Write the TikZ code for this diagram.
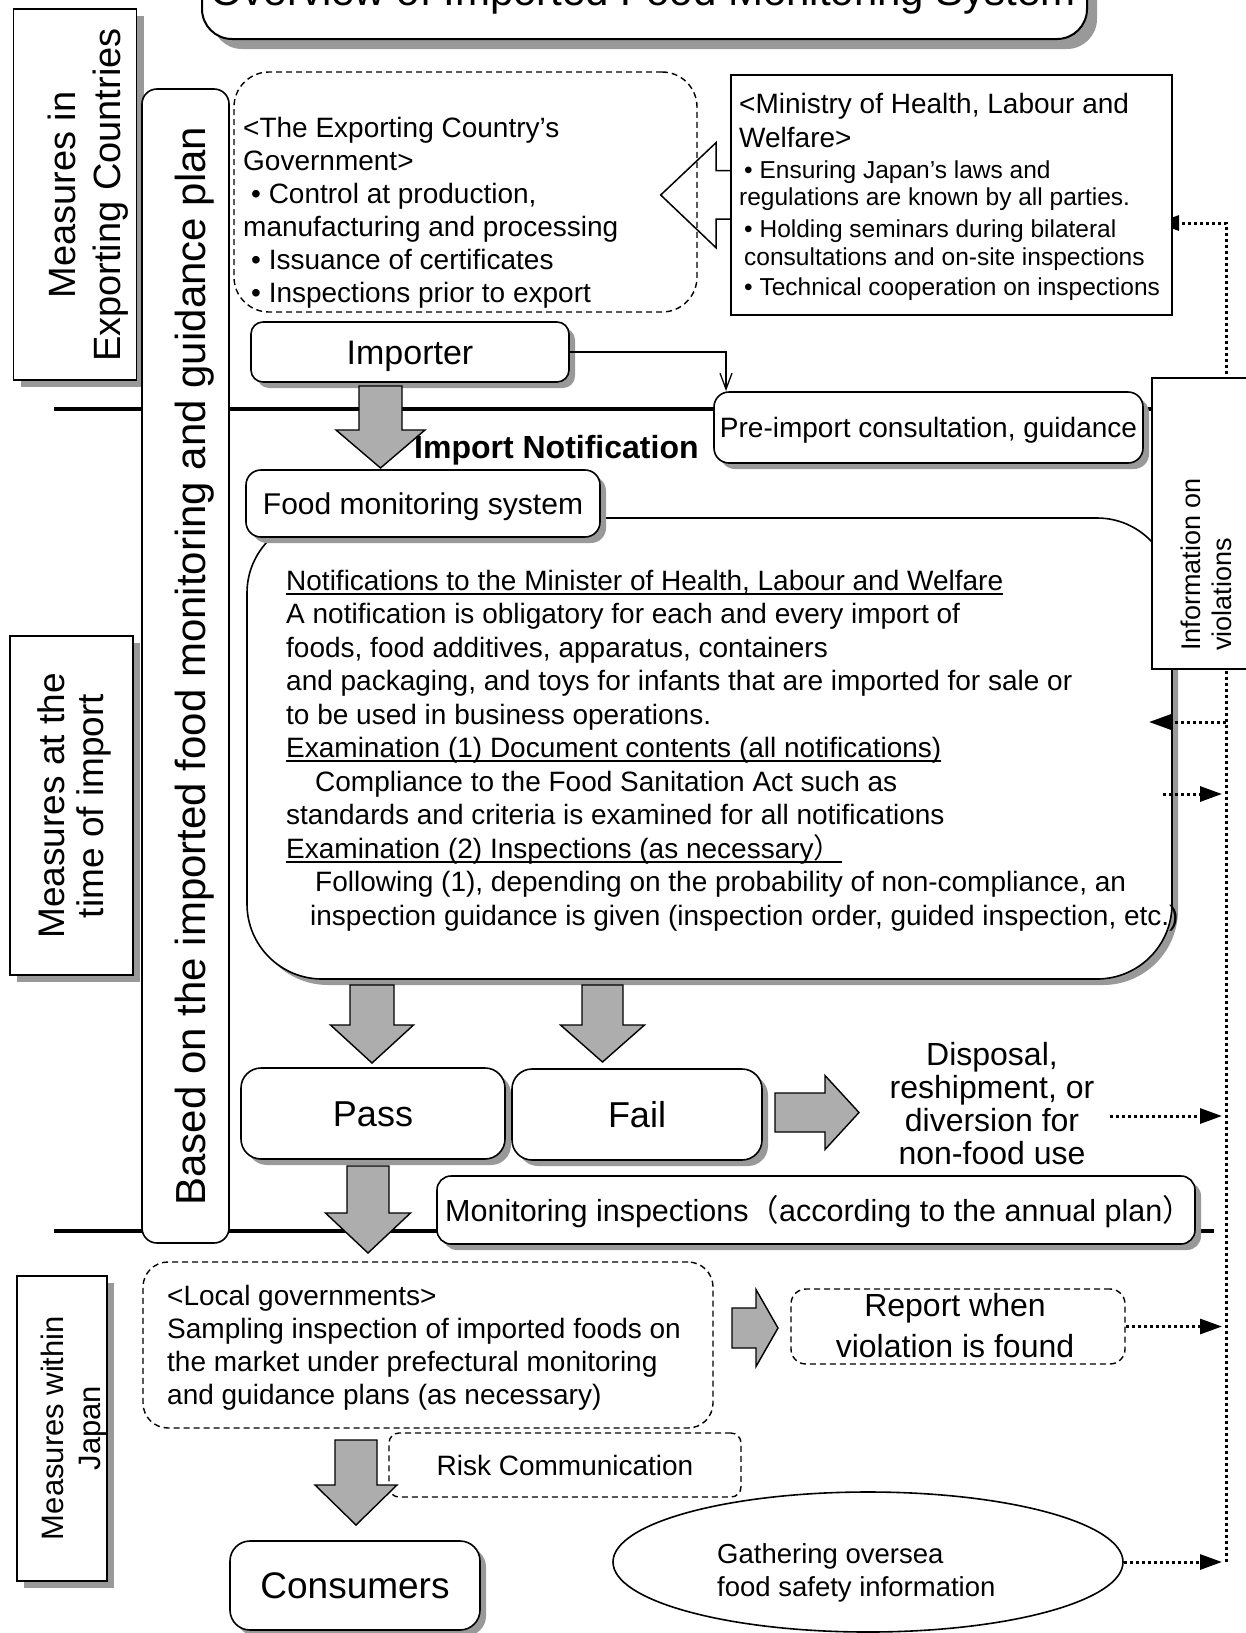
\documentclass[tikz,border=0pt]{standalone}
\usepackage{fontspec}
\setmainfont{Liberation Sans}
\newfontfamily\cjkf{Noto Sans CJK JP}
\usetikzlibrary{shadows,arrows.meta,shapes.geometric}
\newcommand\fsz[2]{\fontsize{#1}{#2}\selectfont}
\newcommand\linesL[2]{\vtop{\baselineskip=#1\relax\lineskiplimit=-1000pt\lineskip=0pt\halign{##\hfil\cr#2\crcr}}}
\newcommand\linesC[2]{\vtop{\baselineskip=#1\relax\lineskiplimit=-1000pt\lineskip=0pt\halign{\hfil##\hfil\cr#2\crcr}}}
\newcommand\ulined[1]{\setbox0=\hbox{#1}\rlap{\rule[-4.5pt]{\wd0}{1.6pt}}\box0}
\newcommand\gdown[6]{\draw[garrow] ({#1-#5},#2) -- ({#1+#5},#2) -- ({#1+#5},#3) -- ({#1+#6},#3) -- (#1,#4) -- ({#1-#6},#3) -- ({#1-#5},#3) -- cycle;}
\newcommand\gright[6]{\draw[garrow] (#2,{#1-#5}) -- (#3,{#1-#5}) -- (#3,{#1-#6}) -- (#4,#1) -- (#3,{#1+#6}) -- (#3,{#1+#5}) -- (#2,{#1+#5}) -- cycle;}
\tikzset{
 bx/.style={draw, line width=1.6pt, fill=white, inner sep=0pt},
 rbx/.style={bx, rounded corners=#1}, rbx/.default=15pt,
 dbx/.style={draw, line width=1.4pt, dash pattern=on 6pt off 4pt, fill=white, inner sep=0pt, rounded corners=#1}, dbx/.default=20pt,
 shad/.style={drop shadow={shadow xshift=#1, shadow yshift=-#1, fill=black!40, opacity=1}}, shad/.default=6pt,
 garrow/.style={draw, line width=1.4pt, fill=black!32, line join=miter},
 dota/.style={line width=3pt, dash pattern=on 3pt off 3pt, -{Triangle[length=22pt,width=15pt]}},
 hrule/.style={line width=4pt},
 capc/.style={text height=#1, text depth=0pt},
 txt/.style={inner sep=0pt},
}
\begin{document}
\begin{tikzpicture}[x=1pt,y=-1pt]
\useasboundingbox (0,0) rectangle (1245,1633);
% horizontal rules
\coordinate (r1a) at (54,409); \coordinate (r1b) at (1152,409);
\coordinate (r2a) at (54,1231); \coordinate (r2b) at (1214,1231);
\draw[hrule] (r1a) -- (r1b);
\draw[hrule] (r2a) -- (r2b);
% information line
\coordinate (vt) at (1226,223); \coordinate (vb) at (1226,1562); \coordinate (vx) at (1222,0);
\coordinate (mtip) at (1157,223);
\draw[dota] (vb) -- (vt) -- (mtip);
% title
\node[rbx=30pt, shad=10pt, minimum width=885pt, minimum height=84pt, line width=2pt] (title) at (644.5,-3) {};
\node[txt, anchor=base, font=\fsz{42}{50}] (titletext) at (643,5) {Overview of Imported Food Monitoring System};
% left labels
\node[bx, shad=7pt, minimum width=123pt, minimum height=371pt] (expc) at (75,194.5) {};
\node[txt, rotate=90, anchor=base, font=\fsz{38}{44}] (expct) at (75,195) {\linesC{45pt}{Measures in\cr Exporting Countries}};
\node[bx, shad=7pt, minimum width=123pt, minimum height=339pt] (timebox) at (71.5,805.5) {};
\node[txt, rotate=90, anchor=base, font=\fsz{37}{43}] (timet) at (64,806) {\linesC{39pt}{Measures at the\cr time of import}};
\node[bx, shad=7pt, minimum width=90pt, minimum height=305pt] (japanbox) at (62,1428.5) {};
\node[txt, rotate=90, anchor=base, font=\fsz{31}{36}] (japant) at (63,1428) {\linesC{37pt}{Measures within\cr Japan}};
\node[rbx=15pt, minimum width=87pt, minimum height=1154pt] (based) at (185.5,666) {};
\node[txt, rotate=90, anchor=base, font=\fsz{42}{50}] (basedt) at (205,666) {Based on the imported food monitoring and guidance plan};
% exporting country
\node[dbx=35pt, minimum width=463pt, minimum height=240pt] (expgov) at (465.5,192) {};
\node[txt, anchor=base west, font=\fsz{28}{33}] (expgovt) at (243,137) {\linesL{33pt}{%
<The Exporting Country’s\cr
Government>\cr
\hspace*{8pt}•\ Control at production,\cr
manufacturing and processing\cr
\hspace*{8pt}•\ Issuance of certificates\cr
\hspace*{8pt}•\ Inspections prior to export}};
% ministry
\node[bx, minimum width=441pt, minimum height=240pt] (ministry) at (951.5,195) {};
\node[txt, anchor=base west, font=\fsz{24.5}{28}] (ministryt) at (739,113) {\linesL{28pt}{%
{\fsz{28}{33}<Ministry of Health, Labour and}\cr\noalign{\vskip 6pt}
{\fsz{28}{33}Welfare>}\cr\noalign{\vskip 3pt}
\hspace*{5pt}•\ Ensuring Japan’s laws and\cr\noalign{\vskip -1pt}
regulations are known by all parties.\cr\noalign{\vskip 4pt}
\hspace*{5pt}•\ Holding seminars during bilateral\cr
\hspace*{5pt}consultations and on-site inspections\cr\noalign{\vskip 2pt}
\hspace*{5pt}•\ Technical cooperation on inspections}};
\draw[line width=1.5pt, line join=miter] (731,170.7) -- (716,170.7) -- (716,142.7) -- (660.7,195) -- (716,247.7) -- (716,219) -- (731,219);
% importer
\node[rbx=12pt, shad, minimum width=318pt, minimum height=60pt, font=\fsz{34}{40}, capc=24.3pt] (importer) at (410,352) {Importer};
\coordinate (preimpin) at (726,391);
\draw[line width=1.3pt, -{Straight Barb[length=16pt,width=12pt]}] (importer.east) -| (preimpin);
\gdown{380.5}{386}{430}{468}{21.5}{44.5}
\node[rbx=15pt, shad, minimum width=429pt, minimum height=71pt, font=\fsz{28}{33}, capc=20pt] (preimp) at (928.5,427.5) {Pre-import consultation, guidance};
\node[txt, anchor=base west, font=\bfseries\fsz{32}{38}] (impnot) at (414,458) {Import Notification};
% notification box
\node[rbx=75pt, shad, minimum width=925pt, minimum height=461pt] (notif) at (709.5,748.5) {};
\node[rbx=15pt, shad, minimum width=354pt, minimum height=67pt, font=\fsz{30}{36}, capc=21.5pt] (foodsys) at (423,503.5) {Food monitoring system};
\node[txt, anchor=base west, font=\fsz{28}{33}] (notift) at (286,590) {\linesL{33.5pt}{%
\ulined{Notifications to the Minister of Health, Labour and Welfare}\cr
A notification is obligatory for each and every import of\cr
foods, food additives, apparatus, containers\cr
and packaging, and toys for infants that are imported for sale or\cr
to be used in business operations.\cr
\ulined{Examination (1) Document contents (all notifications)}\cr
\hspace*{29pt}Compliance to the Food Sanitation Act such as\cr
standards and criteria is examined for all notifications\cr
\ulined{Examination (2) Inspections (as necessary{\cjkf ）}}\cr
\hspace*{29pt}Following (1), depending on the probability of non-compliance, an\cr
\hspace*{24pt}inspection guidance is given (inspection order, guided inspection, etc.)}};
% pass / fail
\gdown{372}{985}{1025}{1063}{22}{41.5}
\gdown{602.5}{985}{1025}{1062}{20.5}{42}
\node[rbx=20pt, shad, minimum width=264pt, minimum height=91pt, font=\fsz{36}{42}, capc=25.8pt] (pass) at (373,1113.5) {Pass};
\node[rbx=20pt, shad, minimum width=250pt, minimum height=91pt, font=\fsz{36}{42}, capc=25.8pt] (fail) at (637,1114.5) {Fail};
\gright{1112.5}{775}{825}{859}{19.5}{37}
\node[txt, anchor=base, font=\fsz{32}{33}] (disp) at (992,1065) {\linesC{33pt}{Disposal,\cr reshipment, or\cr diversion for\cr non-food use}};
\coordinate (dispout) at (1110,1116);
\draw[dota] (dispout) -- (dispout -| vx);
% monitoring
\gdown{368}{1166}{1213}{1253}{21}{42.5}
\node[rbx=14pt, shad, minimum width=758pt, minimum height=68pt] (monit) at (816,1210) {};
\node[txt, anchor=base west, font=\fsz{30.5}{36}] (monitt) at (445,1221) {Monitoring inspections{\cjkf （}according to the annual plan{\cjkf ）}};
% local governments
\node[dbx=25pt, minimum width=570pt, minimum height=166pt] (localgov) at (428,1345) {};
\node[txt, anchor=base west, font=\fsz{28}{33}] (localgovt) at (167,1305) {\linesL{33.3pt}{%
<Local governments>\cr
Sampling inspection of imported foods on\cr
the market under prefectural monitoring\cr
and guidance plans (as necessary)}};
\gright{1328}{732}{756}{778}{20}{38.5}
\node[dbx=15pt, minimum width=334pt, minimum height=75pt] (report) at (958,1326.5) {};
\node[txt, anchor=base, font=\fsz{32}{41}] (reportt) at (955,1316) {\linesC{41pt}{Report when\cr violation is found}};
\draw[dota] (report.east) -- (report.east -| vx);
\node[dbx=10pt, minimum width=352pt, minimum height=64pt, font=\fsz{28}{33}, capc=20pt] (risk) at (565,1465) {Risk Communication};
\gdown{356}{1440}{1485}{1525}{21}{41}
\node[rbx=20pt, shad, minimum width=250pt, minimum height=89pt, font=\fsz{37}{43}, capc=26.5pt] (consumers) at (355,1585.5) {Consumers};
\node[draw, ellipse, line width=1.6pt, fill=white, minimum width=510pt, minimum height=140pt] (gath) at (868,1562) {};
\node[txt, anchor=base west, font=\fsz{27.5}{33}] (gatht) at (717,1563) {\linesL{33pt}{Gathering oversea\cr food safety information}};
\draw[dota] (gath.east) -- (gath.east -| vx);
% information on violations
\node[bx, minimum width=108pt, minimum height=291pt] (info) at (1206,523.5) {};
\node[txt, rotate=90, anchor=base west, font=\fsz{27}{31}] (infot) at (1200,651) {\linesL{31pt}{Information on\cr violations}};
\coordinate (la) at (1226,722); \coordinate (lb) at (1149,722);
\draw[dota] (la) -- (lb);
\coordinate (ra) at (1163,794);
\draw[dota] (ra) -- (ra -| vx);
\end{tikzpicture}
\end{document}
